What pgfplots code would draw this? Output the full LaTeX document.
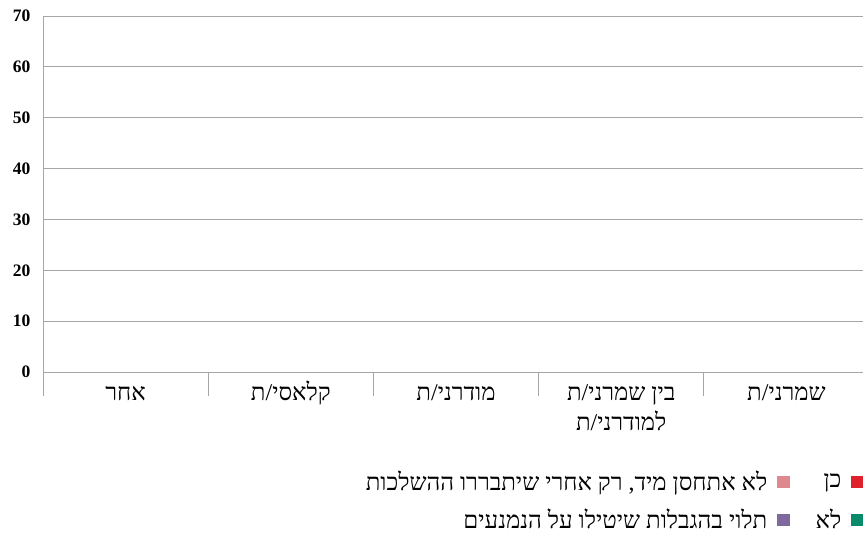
\documentclass[border=0pt]{standalone}
\usepackage{pgfplots}
\pgfplotsset{compat=1.18}
\usepackage{fontspec}
\setmainfont{Liberation Serif}
\newfontfamily\hebfont[Script=Hebrew]{Liberation Serif}
\TeXXeTstate=1
\definecolor{cRed}{HTML}{E0202A}
\definecolor{cPink}{HTML}{E08890}
\definecolor{cGreen}{HTML}{0A8A6A}
\definecolor{cPurple}{HTML}{7E6A9E}
\definecolor{gridgray}{HTML}{A6A6A6}
\begin{document}
\begin{tikzpicture}
\path[use as bounding box] (0,0) rectangle (863pt,533pt);
\begin{axis}[
  at={(43pt,161pt)}, anchor=south west,
  scale only axis, width=826pt, height=356pt,
  xmin=0.5, xmax=5.5, ymin=0, ymax=70,
  axis x line*=bottom, axis y line*=left,
  axis line style={draw=gridgray, line width=0.8pt, -},
  ytick={0,10,...,70},
  ymajorgrids, grid style={draw=gridgray, line width=0.8pt},
  major tick length=0pt,
  /pgf/number format/assume math mode=true,
  yticklabel style={font=\fontsize{17.5}{20}\selectfont\bfseries, xshift=-9pt},
  xtick={1,2,3,4,5},
  xticklabels={
    {\strut\beginR אחר\endR},
    {\strut\beginR קלאסי/ת\endR},
    {\strut\beginR מודרני/ת\endR},
    {\strut\beginR בין שמרני/ת\endR\\\strut\beginR למודרני/ת\endR},
    {\strut\beginR שמרני/ת\endR}},
  xticklabel style={font=\hebfont\fontsize{24}{30}\selectfont, align=center, yshift=-3.5pt},
  extra x ticks={0.5,1.5,2.5,3.5,4.5},
  extra x tick labels={},
  extra x tick style={grid=none, major tick length=24pt, tick style={draw=gridgray, line width=0.8pt}, tick align=outside},
  legend columns=2,
  legend plot pos=right,
  legend cell align=right,
  legend style={at={(axis description cs:0.9939,-0.271)}, anchor=north east, draw=none, fill=none, inner sep=0pt,
    font=\hebfont\fontsize{24}{26}\selectfont, row sep=13pt,
    /tikz/every odd column/.append style={column sep=8pt},
    /tikz/every even column/.append style={column sep=24pt}},
]
\addlegendimage{legend image code/.code={\fill[cPink] (0pt,-5.5pt) rectangle (12pt,5.5pt);}}
\addlegendentry{\beginR לא אתחסן מיד, רק אחרי שיתבררו ההשלכות\endR}
\addlegendimage{legend image code/.code={\fill[cRed] (0pt,-5.5pt) rectangle (12pt,5.5pt);}}
\addlegendentry{\beginR כן\endR}
\addlegendimage{legend image code/.code={\fill[cPurple] (0pt,-5.5pt) rectangle (12pt,5.5pt);}}
\addlegendentry{\beginR תלוי בהגבלות שיטילו על הנמנעים\endR}
\addlegendimage{legend image code/.code={\fill[cGreen] (0pt,-5.5pt) rectangle (12pt,5.5pt);}}
\addlegendentry{\beginR לא\endR}
\end{axis}
\end{tikzpicture}
\end{document}
